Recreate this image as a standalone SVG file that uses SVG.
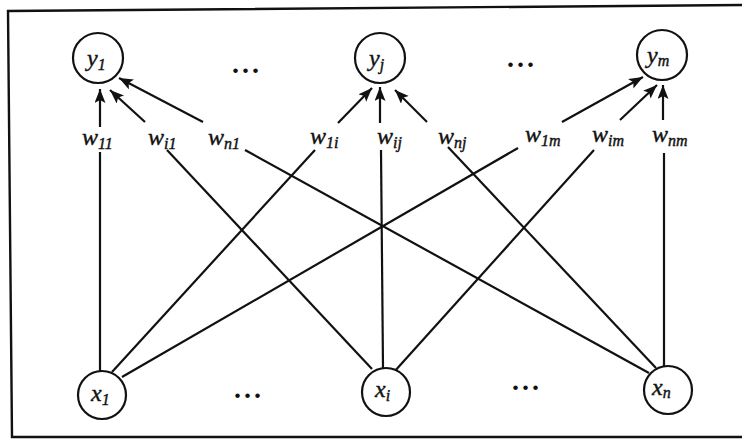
<svg xmlns="http://www.w3.org/2000/svg" width="742" height="439" viewBox="0 0 742 439">
<defs>
<marker id="arr" markerUnits="userSpaceOnUse" markerWidth="15" markerHeight="12" refX="14" refY="5.5" orient="auto">
<path d="M0,0 L14,5.5 L0,11 L3,5.5 z" fill="#111"/>
</marker>
<style>
.n{fill:#fff;stroke:#111;stroke-width:2.2}
.t{font-family:"Liberation Serif","Times New Roman",serif;font-style:italic;font-size:24px;fill:#111;stroke:#111;stroke-width:0.4}
.s{font-size:16px}
.d{font-family:"Liberation Serif",serif;font-weight:bold;font-size:28px;fill:#111;letter-spacing:3px}
.e line{stroke:#111;stroke-width:2.2}
.a{marker-end:url(#arr)}
</style>
</defs>
<rect width="742" height="439" fill="#fff"/>
<path d="M745,5 L8,11 L12,437 L745,437" fill="none" stroke="#111" stroke-width="2.4"/>
<g id="connectors" class="e">
<line x1="100" y1="372" x2="100" y2="152"/>
<line class="a" x1="100" y1="127" x2="100" y2="89"/>
<line x1="372" y1="369" x2="167" y2="150"/>
<line class="a" x1="145" y1="122" x2="110" y2="90"/>
<line x1="649" y1="373" x2="245" y2="150"/>
<line class="a" x1="203" y1="122" x2="119" y2="78"/>
<line x1="112" y1="372" x2="315" y2="150"/>
<line class="a" x1="338" y1="123" x2="372" y2="88"/>
<line x1="383" y1="368" x2="381" y2="150"/>
<line class="a" x1="380" y1="123" x2="380" y2="87"/>
<line x1="656" y1="368" x2="448" y2="147"/>
<line class="a" x1="427" y1="122" x2="395" y2="90"/>
<line x1="122" y1="377" x2="518" y2="148"/>
<line class="a" x1="562" y1="122" x2="643" y2="77"/>
<line x1="394" y1="372" x2="594" y2="150"/>
<line class="a" x1="620" y1="120" x2="657" y2="85"/>
<line x1="664" y1="367" x2="664" y2="153"/>
<line class="a" x1="663" y1="120" x2="663" y2="85"/>
</g>
<g id="weights">
<text class="t" x="82" y="145">w<tspan class="s" dy="4">11</tspan></text>
<text class="t" x="148" y="145">w<tspan class="s" dy="4">i1</tspan></text>
<text class="t" x="208" y="145">w<tspan class="s" dy="4">n1</tspan></text>
<text class="t" x="310" y="144">w<tspan class="s" dy="4">1i</tspan></text>
<text class="t" x="377" y="144">w<tspan class="s" dy="4">ij</tspan></text>
<text class="t" x="438" y="144">w<tspan class="s" dy="4">nj</tspan></text>
<text class="t" x="525" y="142">w<tspan class="s" dy="4">1m</tspan></text>
<text class="t" x="592" y="142">w<tspan class="s" dy="4">im</tspan></text>
<text class="t" x="652" y="142">w<tspan class="s" dy="4">nm</tspan></text>
</g>
<g id="y1"><circle class="n" cx="98" cy="58" r="25"/><text class="t" x="87" y="66">y<tspan class="s" dy="4">1</tspan></text></g>
<g id="yj"><circle class="n" cx="380" cy="58" r="25"/><text class="t" x="369" y="66">y<tspan class="s" dy="4">j</tspan></text></g>
<g id="ym"><circle class="n" cx="662" cy="55" r="25"/><text class="t" x="647" y="63">y<tspan class="s" dy="3">m</tspan></text></g>
<g id="x1"><circle class="n" cx="102" cy="395" r="24"/><text class="t" x="91" y="401">x<tspan class="s" dy="4">1</tspan></text></g>
<g id="xi"><circle class="n" cx="386" cy="392" r="24"/><text class="t" x="375" y="397">x<tspan class="s" dy="4">i</tspan></text></g>
<g id="xn"><circle class="n" cx="668" cy="390" r="24"/><text class="t" x="652" y="395">x<tspan class="s" dy="3">n</tspan></text></g>
<g id="dots">
<text class="d" x="232" y="73">...</text>
<text class="d" x="507" y="67">...</text>
<text class="d" x="234" y="398">...</text>
<text class="d" x="512" y="390">...</text>
</g>
</svg>
